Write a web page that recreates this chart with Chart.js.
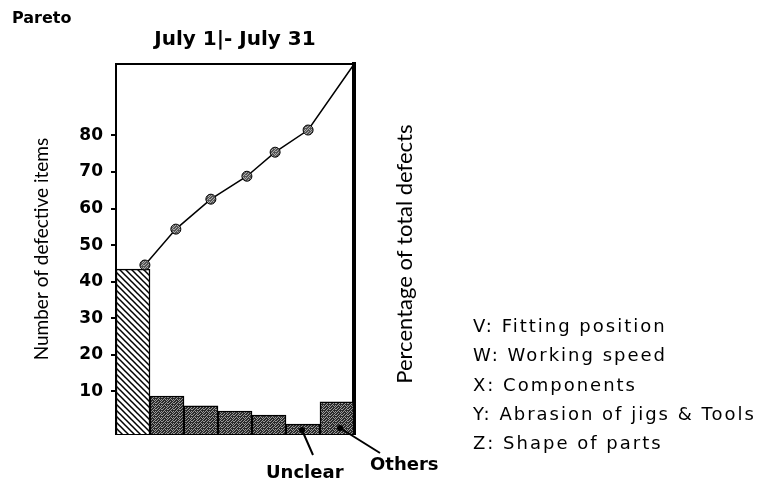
<!DOCTYPE html>
<html>
<head>
<meta charset="utf-8">
<script src="https://cdn.jsdelivr.net/npm/chart.js@4.4.1/dist/chart.umd.min.js"></script>
<style>
html,body{margin:0;padding:0;background:#fff;}
</style>
</head>
<body>
<canvas id="myChart" width="761" height="484"></canvas>
<script>
// data
const categories = ['V', 'W', 'X', 'Y', 'Z', 'Unclear', 'Others']
const defects = [43.4, 8.7, 6.0, 4.6, 3.5, 1.0, 7.1]
const cumX = [0.85, 1.76, 2.79, 3.85, 4.68, 5.65, 7]      // position along the bars
const cumPct = [45.7, 55.4, 63.5, 69.7, 76.2, 82.2, 100]
const yTicks = [10, 20, 30, 40, 50, 60, 70, 80]
const causes = ['V: Fitting position', 'W: Working speed', 'X: Components', 'Y: Abrasion of jigs & Tools', 'Z: Shape of parts']

const yMin = -1.7, yMax = 99.5

// fills
function hatch() {
  const c = document.createElement('canvas')
  c.width = 6; c.height = 6
  const g = c.getContext('2d')
  g.fillStyle = '#fff'; g.fillRect(0, 0, 6, 6)
  g.strokeStyle = '#000'; g.lineWidth = 1.5
  g.beginPath()
  g.moveTo(-1, -1); g.lineTo(7, 7)
  g.moveTo(-1, 5); g.lineTo(1, 7)
  g.moveTo(5, -1); g.lineTo(7, 1)
  g.stroke()
  return g.createPattern(c, 'repeat')
}
function stipple(dark, light) {
  const bits = ['101101', '011010', '110111', '101010', '011101', '110110']
  const c = document.createElement('canvas')
  c.width = 6; c.height = 6
  const g = c.getContext('2d')
  for (let r = 0; r < 6; r++) for (let k = 0; k < 6; k++) {
    g.fillStyle = bits[r][k] === '1' ? dark : light
    g.fillRect(k, r, 1, 1)
  }
  return g.createPattern(c, 'repeat')
}
const barFill = stipple('#2a2a2a', '#9a9a9a')
const barColors = categories.map((c, i) => i === 0 ? hatch() : barFill)
const dotFill = stipple('#555', '#aaa')

const extras = {
  id: 'extras',
  afterDraw(chart) {
    const ctx = chart.ctx
    const a = chart.chartArea
    ctx.save()
    ctx.fillStyle = '#000'
    // right side title
    ctx.translate(405, (a.top + a.bottom) / 2 + 5)
    ctx.rotate(-Math.PI / 2)
    ctx.font = '22px Lato'
    ctx.textAlign = 'center'
    ctx.textBaseline = 'middle'
    ctx.fillText('Percentage of total defects', 0, 0)
    ctx.restore()

    ctx.save()
    ctx.fillStyle = '#000'
    ctx.font = '18px "DejaVu Sans"'
    ctx.letterSpacing = '2px'
    causes.forEach((t, i) => ctx.fillText(t, 473, 332 + i * 29.3))
    ctx.restore()

    // callouts for the last two bars
    const meta = chart.getDatasetMeta(1)
    const u = meta.data[5], o = meta.data[6]
    ctx.save()
    ctx.strokeStyle = '#000'; ctx.fillStyle = '#000'; ctx.lineWidth = 2
    ctx.beginPath()
    ctx.moveTo(u.x - 1, u.base - 4); ctx.lineTo(u.x + 10, u.base + 21)
    ctx.moveTo(o.x + 3, o.base - 6); ctx.lineTo(o.x + 43, o.base + 19)
    ctx.stroke()
    ctx.beginPath(); ctx.arc(u.x - 1, u.base - 4, 3, 0, Math.PI * 2); ctx.fill()
    ctx.beginPath(); ctx.arc(o.x + 3, o.base - 6, 3, 0, Math.PI * 2); ctx.fill()
    ctx.font = 'bold 18px "DejaVu Sans"'
    ctx.fillText(categories[5], u.x - 37, u.base + 44)
    ctx.fillText(categories[6], o.x + 33, o.base + 36)
    ctx.restore()
  }
}

Chart.defaults.color = '#000'
const ctx = document.getElementById('myChart').getContext('2d')
new Chart(ctx, {
  type: 'bar',
  data: {
    datasets: [
      {
        type: 'line',
        data: cumX.map((x, i) => ({ x: x, y: cumPct[i] })),
        xAxisID: 'x',
        yAxisID: 'yp',
        borderColor: '#000',
        borderWidth: 1.5,
        pointRadius: cumX.map((x, i) => i < cumX.length - 1 ? 5 : 0),
        pointBackgroundColor: dotFill,
        pointBorderColor: '#000',
        pointBorderWidth: 1,
        clip: false,
        order: 0
      },
      {
        data: defects.map((v, i) => ({ x: i + 0.5, y: v })),
        xAxisID: 'x',
        yAxisID: 'y',
        base: yMin,
        backgroundColor: barColors,
        borderColor: '#000',
        borderWidth: 1.5,
        categoryPercentage: 1,
        barPercentage: 1,
        order: 1
      }
    ]
  },
  options: {
    responsive: false,
    animation: false,
    layout: { padding: { left: 12, top: 4, right: 407, bottom: 50 } },
    plugins: {
      legend: { display: false },
      tooltip: { enabled: false },
      title: {
        display: true, text: 'Pareto', align: 'start', fullSize: true,
        font: { family: 'DejaVu Sans', weight: 'bold', size: 16 },
        padding: { top: 5, bottom: 0 }
      },
      subtitle: {
        display: true, text: 'July 1|- July 31', fullSize: false,
        font: { family: 'DejaVu Sans', weight: 'bold', size: 20 },
        color: '#000',
        padding: { top: 0, bottom: 12 }
      }
    },
    scales: {
      x: {
        type: 'linear', position: 'bottom', min: 0, max: categories.length, offset: false,
        ticks: { display: false, stepSize: 1 },
        grid: { display: false, offset: false },
        border: { color: '#000', width: 2 },
        afterFit: s => { s.height = 0 }
      },
      xt: {
        type: 'linear', position: 'top', min: 0, max: 1, offset: false,
        ticks: { display: false },
        grid: { display: false, offset: false },
        border: { color: '#000', width: 2 },
        afterFit: s => { s.height = 0 }
      },
      y: {
        type: 'linear', position: 'left', min: yMin, max: yMax,
        afterBuildTicks: s => { s.ticks = yTicks.map(v => ({ value: v })) },
        ticks: { font: { family: 'DejaVu Sans', weight: 'bold', size: 17 }, color: '#000', padding: 8 },
        grid: { drawOnChartArea: false, color: '#000', lineWidth: 2, tickLength: 5 },
        border: { color: '#000', width: 2 },
        title: {
          display: true, text: 'Number of defective items',
          font: { family: 'Lato', size: 19 }, color: '#000',
          padding: { top: 18, bottom: 0 }
        },
        afterFit: s => { s.width = 104 }
      },
      yp: {
        type: 'linear', position: 'right', min: 0, max: 100,
        ticks: { display: false },
        grid: { display: false },
        border: { color: '#000', width: 4 },
        afterFit: s => { s.width = 0 }
      }
    }
  },
  plugins: [extras]
})
</script>
</body>
</html>
